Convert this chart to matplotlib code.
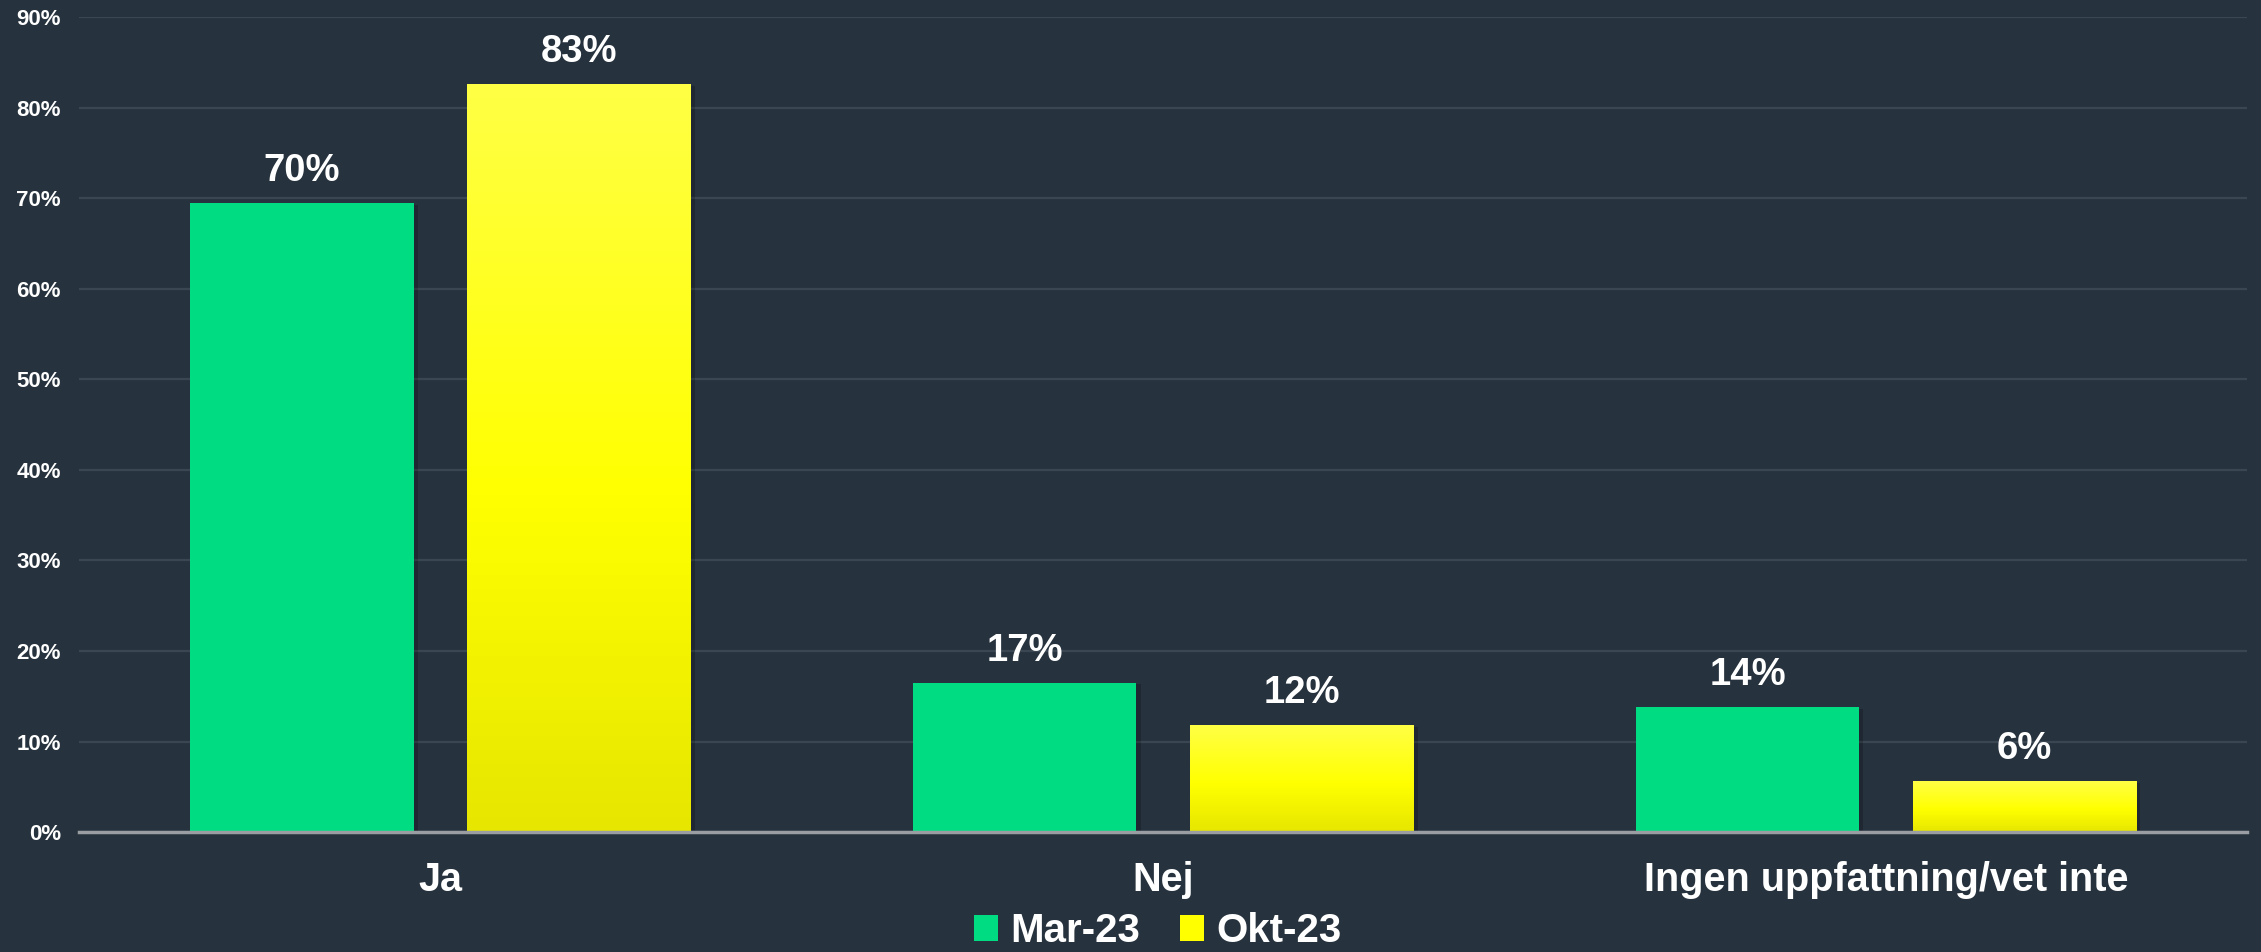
import matplotlib
matplotlib.use("Agg")
import matplotlib.pyplot as plt
import numpy as np
from matplotlib.colors import LinearSegmentedColormap
from matplotlib.patches import Patch
from matplotlib.ticker import PercentFormatter

categories = ["Ja", "Nej", "Ingen uppfattning/vet inte"]
series_names = ["Mar-23", "Okt-23"]
mar23 = [0.695, 0.165, 0.138]
okt23 = [0.826, 0.118, 0.056]
labels_mar = ["70%", "17%", "14%"]
labels_okt = ["83%", "12%", "6%"]
yticks = [0.0, 0.1, 0.2, 0.3, 0.4, 0.5, 0.6, 0.7, 0.8, 0.9]

bg = "#26323d"
green = "#00dc82"
yellow_cmap = LinearSegmentedColormap.from_list(
    "yel", [(0.0, "#e6e600"), (0.45, "#ffff00"), (1.0, "#ffff45")])

plt.rcParams["font.family"] = ["Liberation Sans", "DejaVu Sans"]
plt.rcParams["font.weight"] = "bold"

fig = plt.figure(figsize=(22.61, 9.52), dpi=100, facecolor=bg)
ax = fig.add_axes([0.035, 0.126, 0.9589, 0.856])
ax.set_facecolor(bg)

x = np.arange(len(categories))
w = 0.309
off = 0.1915

bars_g = ax.bar(x - off, mar23, w, color=green, zorder=3)
bars_y = ax.bar(x + off, okt23, w, color="none", zorder=3)

# yellow gradient drawn inside each bar
grad = np.linspace(0, 1, 256).reshape(-1, 1)
for b in bars_y:
    x0, y0 = b.get_x(), b.get_y()
    ax.imshow(grad, cmap=yellow_cmap, origin="lower", aspect="auto",
              extent=[x0, x0 + b.get_width(), y0, y0 + b.get_height()], zorder=3)

# faint shadow behind bars
for b in list(bars_g) + list(bars_y):
    ax.add_patch(plt.Rectangle((b.get_x() + 0.006, 0), b.get_width(), b.get_height() - 0.002,
                               color="black", alpha=0.18, zorder=2, lw=0))

for b, t in zip(bars_g, labels_mar):
    ax.annotate(t, (b.get_x() + b.get_width() / 2, b.get_height()), xytext=(0, 10),
                textcoords="offset points", ha="center", va="bottom",
                color="white", fontsize=27.5, fontweight="bold", zorder=5)
for b, t in zip(bars_y, labels_okt):
    ax.annotate(t, (b.get_x() + b.get_width() / 2, b.get_height()), xytext=(0, 10),
                textcoords="offset points", ha="center", va="bottom",
                color="white", fontsize=27.5, fontweight="bold", zorder=5)

ax.set_xlim(-0.5, 2.5)
ax.set_ylim(0, 0.9)
ax.set_yticks(yticks)
ax.yaxis.set_major_formatter(PercentFormatter(1.0, decimals=0))
ax.set_xticks(x)
ax.set_xticklabels(categories)
ax.tick_params(axis="y", length=0, pad=13, labelsize=16, labelcolor="white")
ax.tick_params(axis="x", length=0, pad=21, labelsize=28.5, labelcolor="white")
for lab in ax.get_yticklabels() + ax.get_xticklabels():
    lab.set_fontweight("bold")

ax.grid(axis="y", color="#3a4651", linewidth=1.6, zorder=0)
ax.set_axisbelow(True)
for s in ["top", "right", "left"]:
    ax.spines[s].set_visible(False)
ax.spines["bottom"].set_color("#9a9ea3")
ax.spines["bottom"].set_linewidth(2.5)
ax.spines["bottom"].set_zorder(4)

handles = [Patch(facecolor=green, label=series_names[0]),
           Patch(facecolor="#ffff00", label=series_names[1])]
leg = fig.legend(handles=handles, loc="center", bbox_to_anchor=(0.512, 0.022),
                 ncol=2, frameon=False, handlelength=0.6,
                 handleheight=0.6, handletextpad=0.3, columnspacing=1.0,
                 labelcolor="white", prop={"weight": "bold", "size": 29})

fig.savefig("out.png", dpi=100, facecolor=bg)
